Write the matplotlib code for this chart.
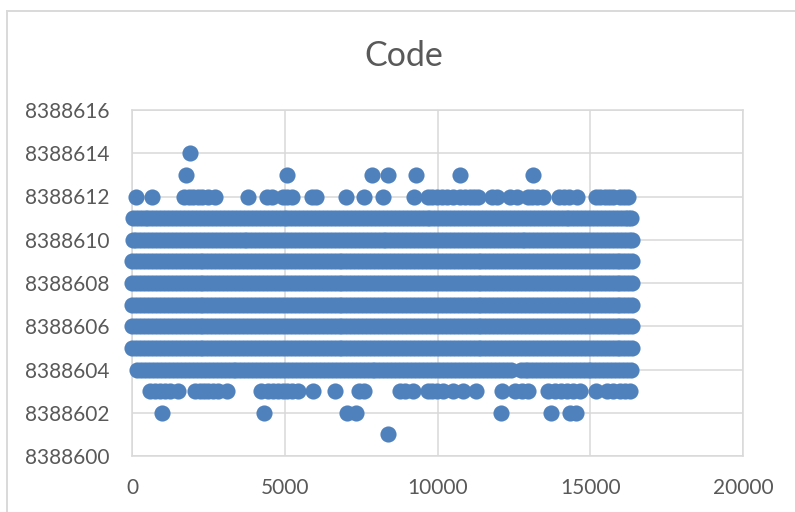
import matplotlib
matplotlib.use("Agg")
import matplotlib.pyplot as plt
from matplotlib.lines import Line2D

plt.rcParams['font.family'] = ['Lato', 'DejaVu Sans']

TITLE = "Code"
BLUE = "#4F81BD"
GRID = "#D9D9D9"
TEXT = "#595959"

x_ticks = [0, 5000, 10000, 15000, 20000]
y_ticks = [8388600, 8388602, 8388604, 8388606, 8388608, 8388610, 8388612, 8388614, 8388616]

# the solid bands
x_full = [0, 130, 260, 390, 520, 650, 780, 910, 1040, 1170, 1300, 1430, 1560, 1690, 1820, 1950,
          2080, 2210, 2340, 2470, 2600, 2730, 2860, 2990, 3120, 3250, 3380, 3510, 3640, 3770, 3900, 4030,
          4160, 4290, 4420, 4550, 4680, 4810, 4940, 5070, 5200, 5330, 5460, 5590, 5720, 5850, 5980, 6110,
          6240, 6370, 6500, 6630, 6760, 6890, 7020, 7150, 7280, 7410, 7540, 7670, 7800, 7930, 8060, 8190,
          8320, 8450, 8580, 8710, 8840, 8970, 9100, 9230, 9360, 9490, 9620, 9750, 9880, 10010, 10140, 10270,
          10400, 10530, 10660, 10790, 10920, 11050, 11180, 11310, 11440, 11570, 11700, 11830, 11960, 12090,
          12220, 12350, 12480, 12610, 12740, 12870, 13000, 13130, 13260, 13390, 13520, 13650, 13780, 13910,
          14040, 14170, 14300, 14430, 14560, 14690, 14820, 14950, 15080, 15210, 15340, 15470, 15600, 15730,
          15860, 15990, 16120, 16250, 16380]
x_row_11 = [20, 150, 280, 410, 540, 670, 800, 930, 1060, 1190, 1320, 1450, 1580, 1710, 1840, 1970,
            2100, 2230, 2360, 2490, 2620, 2750, 2880, 3010, 3140, 3270, 3400, 3530, 3660, 3790, 3920, 4050,
            4180, 4310, 4440, 4570, 4700, 4830, 4960, 5090, 5220, 5350, 5480, 5610, 5740, 5870, 6000, 6130,
            6260, 6390, 6520, 6650, 6780, 6910, 7040, 7170, 7300, 7430, 7560, 7690, 7820, 7950, 8080, 8210,
            8340, 8470, 8600, 8730, 8860, 8990, 9120, 9250, 9380, 9510, 9640, 9770, 9900, 10030, 10160, 10290,
            10420, 10550, 10680, 10810, 10940, 11070, 11200, 11330, 11460, 11590, 11720, 11850, 11980, 12110,
            12240, 12370, 12500, 12630, 12760, 12890, 13020, 13150, 13280, 13410, 13540, 13670, 13800, 13930,
            14060, 14190, 14320, 14450, 14580, 14710, 14840, 14970, 15100, 15230, 15360, 15490, 15620, 15750,
            15880, 16010, 16140, 16230, 16320]
x_row_10 = [20, 140, 270, 400, 530, 660, 790, 920, 1050, 1180, 1310, 1440, 1570, 1700, 1830, 1960,
            2090, 2220, 2350, 2480, 2610, 2740, 2870, 3000, 3130, 3260, 3390, 3520, 3650, 3780, 3910, 4040,
            4170, 4300, 4430, 4560, 4690, 4820, 4950, 5080, 5210, 5340, 5470, 5600, 5730, 5860, 5990, 6120,
            6250, 6380, 6510, 6640, 6770, 6900, 7030, 7160, 7290, 7420, 7550, 7680, 7810, 7940, 8070, 8200,
            8330, 8460, 8590, 8720, 8850, 8980, 9110, 9240, 9370, 9500, 9630, 9760, 9890, 10020, 10150, 10280,
            10410, 10540, 10670, 10800, 10930, 11060, 11190, 11320, 11450, 11580, 11710, 11840, 11970, 12100,
            12230, 12360, 12490, 12620, 12750, 12880, 13010, 13140, 13270, 13400, 13530, 13660, 13790, 13920,
            14050, 14180, 14310, 14440, 14570, 14700, 14830, 14960, 15090, 15220, 15350, 15480, 15610, 15740,
            15870, 16000, 16130, 16260, 16370]
x_row_4 = [180, 300, 430, 560, 690, 820, 950, 1080, 1210, 1340, 1470, 1600, 1730, 1860, 1990,
           2120, 2250, 2380, 2510, 2640, 2770, 2900, 3030, 3160, 3290, 3420, 3550, 3680, 3810, 3940, 4070,
           4200, 4330, 4460, 4590, 4720, 4850, 4980, 5110, 5240, 5370, 5500, 5630, 5760, 5890, 6020, 6150,
           6280, 6410, 6540, 6670, 6800, 6930, 7060, 7190, 7320, 7450, 7580, 7710, 7840, 7970, 8100, 8230,
           8360, 8490, 8620, 8750, 8880, 9010, 9140, 9270, 9400, 9530, 9660, 9790, 9920, 10050, 10180, 10310,
           10440, 10570, 10700, 10830, 10960, 11090, 11220, 11350, 11480, 11610, 11740, 11870, 12000, 12130,
           12260, 12420, 12740, 12870, 12960, 13090, 13220, 13350, 13480, 13610, 13740, 13870, 14000,
           14130, 14260, 14390, 14520, 14650, 14780, 14910, 15040, 15170, 15300, 15430, 15560, 15690, 15820,
           15950, 16080, 16210, 16350]

# the sparse rows, one blob at a time
x_row_14 = [1900]
x_row_13 = [1770, 5080, 7850, 8380, 9300, 10740, 13130]
x_row_12 = [130, 655, 1700, 1850, 2000, 2150, 2290, 2490, 2720, 3800, 4420, 4580, 4940, 5090, 5240, 5900, 6020,
            7000, 7590, 8220, 9230, 9690, 9830, 9980, 10150, 10310, 10520, 10740, 10900, 11060, 11200, 11330,
            11800, 11950, 12370, 12600, 12950, 13100, 13250, 13450, 13980, 14150, 14300, 14570,
            15190, 15330, 15480, 15620, 15750, 15970, 16100, 16240]
x_row_3 = [590, 750, 920, 1080, 1240, 1510, 2060, 2230, 2350, 2490, 2650, 2820, 3110, 4220, 4450, 4620, 4780,
           4930, 5080, 5250, 5430, 5920, 6640, 7430, 7600, 8770, 8950, 9200, 9690, 9830, 9980, 10180, 10510,
           10840, 11260, 12110, 12540, 12770, 12960, 13620, 13850, 14050, 14240, 14440, 14670, 15190, 15550, 15750,
           15970, 16130, 16300]
x_row_2 = [980, 4320, 7040, 7330, 12080, 13720, 14340, 14530]
x_row_1 = [8380]

rows = {
    8388614: x_row_14,
    8388613: x_row_13,
    8388612: x_row_12,
    8388611: x_row_11,
    8388610: x_row_10,
    8388609: x_full,
    8388608: x_full,
    8388607: x_full,
    8388606: x_full,
    8388605: x_full,
    8388604: x_row_4,
    8388603: x_row_3,
    8388602: x_row_2,
    8388601: x_row_1,
}

fig = plt.figure(figsize=(7.95, 5.12), dpi=100)
ax = fig.add_axes([132 / 795, 56 / 512, 611 / 795, 346 / 512])

for y, xs in rows.items():
    ax.scatter(xs, [y] * len(xs), s=135, color=BLUE, linewidths=0, zorder=3, clip_on=False, snap=False)

ax.set_xlim(x_ticks[0], x_ticks[-1])
ax.set_ylim(y_ticks[0], y_ticks[-1])
ax.set_xticks(x_ticks)
ax.set_yticks(y_ticks)
ax.ticklabel_format(useOffset=False, style='plain')
ax.grid(True, color=GRID, linewidth=1.1, zorder=0)
ax.set_axisbelow(True)
ax.tick_params(length=0, labelsize=15, labelcolor=TEXT)
ax.tick_params(axis='x', pad=16)
ax.tick_params(axis='y', pad=16)
for s in ax.spines.values():
    s.set_color(GRID)
    s.set_linewidth(1.1)

fig.text(404 / 795, 1 - 56 / 512, TITLE, ha='center', va='center', fontsize=24.5, color=TEXT)

# chart frame runs off the right and bottom of the screenshot
fig.add_artist(Line2D([7 / 795, 7 / 795], [0, 1 - 11 / 512], color=GRID, linewidth=1.4))
fig.add_artist(Line2D([7 / 795, 1], [1 - 11 / 512, 1 - 11 / 512], color=GRID, linewidth=1.4))

fig.savefig("out.png", dpi=100)
